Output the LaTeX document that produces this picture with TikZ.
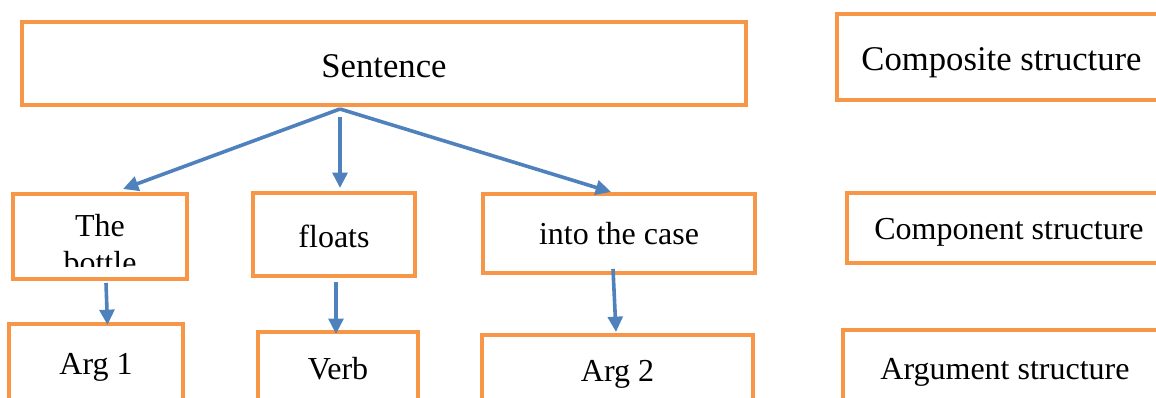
\documentclass[tikz,border=0pt]{standalone}
\usepackage{fontspec}
\setmainfont{Liberation Serif}
\usetikzlibrary{arrows.meta}
\definecolor{boxorange}{HTML}{F79646}
\definecolor{arrblue}{HTML}{4F81BD}
\tikzset{
  box/.style={draw=boxorange, line width=2.4pt, rectangle, inner sep=0pt, text depth=0pt,
              font=\fontsize{24}{28}\selectfont},
  bigbox/.style={box, font=\fontsize{26}{30}\selectfont},
  arr/.style={draw=arrblue, line width=2.7pt, -{Triangle[length=11.5pt,width=11pt]}},
}
\begin{document}
\begin{tikzpicture}[x=0.75pt,y=-0.75pt]
\useasboundingbox (0,0) rectangle (1156,398);
\clip (0,0) rectangle (1156,398);
% boxes
\node[bigbox, minimum width=543pt, minimum height=62.25pt, text height=21.3pt] (sent) at (384,63.5) {Sentence};
\node[bigbox, minimum width=246.75pt, minimum height=64.5pt, text height=21pt] (comp) at (1001.5,57) {Composite structure};
\node[box, minimum width=243pt, minimum height=52.5pt, text height=18pt] (compo) at (1009,228) {Component structure};
\node[box, minimum width=243pt, minimum height=63.75pt, text height=10.5pt] (argst) at (1005,372.5) {Argument structure};
\node[box, minimum width=130.5pt, minimum height=63.75pt] (bottle) at (100,236.5) {};
\begin{scope}
  \clip (15,196) rectangle (185,267);
  \node[anchor=north, inner sep=0pt, align=center, font=\fontsize{24}{28}\selectfont] (bottletext) at (100,214) {The\\bottle};
\end{scope}
\node[box, minimum width=121.5pt, minimum height=62.25pt, text height=18.8pt] (floats) at (334,234.5) {floats};
\node[box, minimum width=204pt, minimum height=59.25pt, text height=16.5pt] (into) at (619,233.5) {into the case};
\node[box, minimum width=130.5pt, minimum height=64.5pt, text height=11pt] (arg1) at (96,367) {Arg 1};
\node[box, minimum width=120pt, minimum height=58.5pt, text height=12.5pt] (verb) at (338,371) {Verb};
\node[box, minimum width=203.25pt, minimum height=56.25pt, text height=13.25pt] (arg2) at (617.5,372.5) {Arg 2};
% connector end points
\coordinate (s0) at (340,109);
\coordinate (s1) at (340,117);
\coordinate (tb) at (123,189);
\coordinate (tf) at (340,188);
\coordinate (ti) at (611,192);
\coordinate (b0) at (106,283);
\coordinate (b1) at (107.5,325);
\coordinate (f0) at (336,282);
\coordinate (f1) at (336,334);
\coordinate (i0) at (613,269);
\coordinate (i1) at (616,332);
% connectors
\draw[arr] (s0) -- (tb);
\draw[arr] (s1) -- (tf);
\draw[arr] (s0) -- (ti);
\draw[arr] (b0) -- (b1);
\draw[arr] (f0) -- (f1);
\draw[arr] (i0) -- (i1);
\end{tikzpicture}
\end{document}
